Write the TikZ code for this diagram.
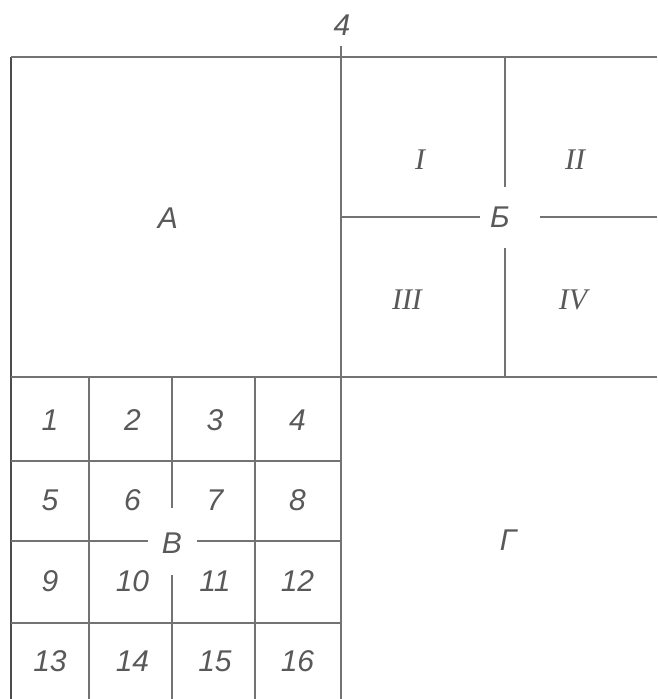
\documentclass[tikz,border=0pt]{standalone}
\usepackage{fontspec}
\setmainfont{Liberation Sans}
\newfontfamily\romfont{Liberation Serif}
\usetikzlibrary{calc}

\begin{document}
\begin{tikzpicture}[x=1pt, y=-1pt,
    plan/.style={draw=black!55, line width=1.6pt},
    edge/.style={draw=black!70, line width=2.6pt},
    lbl/.style={text=black!65, inner sep=0pt, font=\fontsize{30}{32}\selectfont\itshape},
    rom/.style={text=black!65, inner sep=0pt, font=\fontsize{30}{32}\selectfont\romfont\itshape}]
  \useasboundingbox (0,0) rectangle (657,699);

  % Labels
  \node[lbl] (top) at (342,25) {4};
  \node[lbl] (A) at (168,218) {А};
  \node[lbl] (B) at (500,217) {Б};
  \node[lbl] (V) at (172,543) {В};
  \node[lbl] (G) at (508,540) {Г};
  \node[rom] (r1) at (420,160) {I};
  \node[rom] (r2) at (575,160) {II};
  \node[rom] (r3) at (407,300) {III};
  \node[rom] (r4) at (573,300) {IV};

  % Cells 1..16
  \foreach \n in {1,...,16} {
    \pgfmathtruncatemacro{\col}{mod(\n-1,4)}
    \pgfmathtruncatemacro{\row}{(\n-1)/4}
    \node[lbl] (c\n) at (50+82.5*\col, 420+80.5*\row) {\n};
  }

  % Outline
  \draw[edge] (11,699) -- (11,57);
  \draw[plan] (11,57) -- (657,57);
  \draw[plan] (341,46) -- (341,699);
  \draw[plan] (11,377) -- (657,377);

  % Block B
  \draw[plan] (505,57) -- ($(B)+(5,-30)$);
  \draw[plan] ($(B)+(5,31)$) -- (505,377);
  \draw[plan] (341,217) -- ($(B)+(-20,0)$);
  \draw[plan] ($(B)+(40,0)$) -- (657,217);

  % Grid V
  \foreach \x in {89,255}
    \draw[plan] (\x,377) -- (\x,699);
  \foreach \y in {461,623}
    \draw[plan] (11,\y) -- (341,\y);
  \draw[plan] (172,377) -- ($(V)+(0,-35)$);
  \draw[plan] ($(V)+(0,32)$) -- (172,699);
  \draw[plan] (11,541) -- ($(V)+(-24,-2)$);
  \draw[plan] ($(V)+(25,-2)$) -- (341,541);
\end{tikzpicture}
\end{document}
